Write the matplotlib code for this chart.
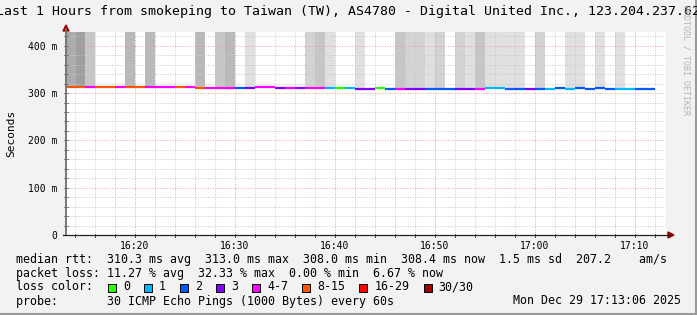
import numpy as np
import matplotlib.pyplot as plt
from matplotlib.patches import Rectangle, Polygon
from matplotlib.lines import Line2D

# ── data ────────────────────────────────────────────────────────────────────
title = "Last 1 Hours from smokeping to Taiwan (TW), AS4780 - Digital United Inc., 123.204.237.62"
t_start = 13.1          # minutes after 16:00 (16:13:06)
t_span = 60.0
step_ends = np.arange(14, 73)   # rrd steps of one minute, 16:14 .. 17:12

median_ms = [313.0, 312.8, 312.5, 312.2, 311.8, 312.0, 312.3, 312.3, 312.5, 312.6,
             312.4, 312.0, 311.8, 311.5, 311.4, 311.3, 311.3, 311.0, 311.0, 312.0,
             312.0, 311.0, 311.0, 310.8, 310.5, 310.5, 309.8, 309.8, 309.8, 309.5,
             309.5, 309.8, 309.5, 309.5, 309.3, 309.3, 309.0, 309.0, 309.0, 308.8,
             308.0, 309.5, 310.5, 310.5, 309.2, 309.0, 309.0, 309.0, 309.2, 310.0,
             309.3, 310.0, 309.3, 310.0, 309.5, 309.3, 309.3, 308.6, 308.4]
lost_pings = [8, 10, 5, 8, 8, 6, 8, 8, 4, 4,
              4, 8, 4, 8, 4, 6, 4, 2, 3, 4,
              4, 3, 4, 3, 5, 6, 1, 0, 1, 3,
              3, 0, 2, 5, 3, 3, 2, 2, 2, 3,
              3, 4, 1, 1, 2, 2, 3, 2, 1, 2,
              1, 2, 2, 2, 2, 1, 1, 2, 2]
# how many pings of the 30 went off the top of the graph (smoke darkness)
smoke_over = [5, 6, 3, 0, 0, 0, 4, 0, 4, 0,
              0, 0, 0, 4, 0, 3, 4, 0, 1, 0,
              0, 0, 0, 0, 2, 3, 1, 0, 0, 1,
              0, 0, 0, 3, 2, 2, 1, 2, 0, 2,
              1, 3, 1, 1, 1, 1, 0, 2, 0, 0,
              1, 1, 0, 1, 0, 1, 0, 0, 0]

loss_bins = ["0", "1", "2", "3", "4-7", "8-15", "16-29", "30/30"]
loss_cols = ["#26ff00", "#00b8ff", "#0059ff", "#7e00ff", "#ff00ff", "#ff5500", "#ff0000", "#a00000"]

stats_rtt = "median rtt:  310.3 ms avg  313.0 ms max  308.0 ms min  308.4 ms now  1.5 ms sd  207.2    am/s"
stats_loss = "packet loss: 11.27 % avg  32.33 % max  0.00 % min  6.67 % now"
probe_txt = "probe:       30 ICMP Echo Pings (1000 Bytes) every 60s"
stamp_txt = "Mon Dec 29 17:13:06 2025"

yticks = [0, 100, 200, 300, 400]
ytick_lbl = ["0", "100 m", "200 m", "300 m", "400 m"]
xticks = [20, 30, 40, 50, 60, 70]
xtick_lbl = ["16:20", "16:30", "16:40", "16:50", "17:00", "17:10"]


def loss_color(n):
    if n <= 3:
        return loss_cols[n]
    if n <= 7:
        return loss_cols[4]
    if n <= 15:
        return loss_cols[5]
    if n <= 29:
        return loss_cols[6]
    return loss_cols[7]


W, H = 697, 315
MONO = "DejaVu Sans Mono"
def fx(x): return x / W
def fy(y): return 1 - y / H

fig = plt.figure(figsize=(W / 100, H / 100), dpi=100, facecolor="#f2f2f2")
L, R, T, B = 66, 666, 32, 235
ax = fig.add_axes([fx(L), fy(B), (R - L) / W, (B - T) / H])
ax.set_facecolor("white")
YTOP = 429
ax.set_xlim(t_start, t_start + t_span)
ax.set_ylim(0, YTOP)
for s in ax.spines.values():
    s.set_visible(False)
ax.tick_params(length=0, labelsize=7, colors="#000000")
for lbl in ax.get_xticklabels() + ax.get_yticklabels():
    lbl.set_family(MONO)

# smoke columns
starts = np.concatenate([[t_start], step_ends[:-1]])
for x0, x1, m, n in zip(starts, step_ends, median_ms, smoke_over):
    if n > 0:
        g = 0xe0 - (n - 1) * 0x0d
        ax.add_patch(Rectangle((x0, m), x1 - x0, 1000, facecolor="#%02x%02x%02x" % (g, g, g),
                               lw=0, zorder=1))

# grid
dots = (0, (1.0, 1.6))
for v in np.arange(14, 74, 2):
    major = v % 10 == 0
    ax.axvline(v, color="#e9a0a0" if major else "#c8c8c8", lw=0.7, ls=dots, zorder=2)
for v in np.arange(20, YTOP, 20):
    major = v % 100 == 0
    ax.axhline(v, color="#e9a0a0" if major else "#c8c8c8", lw=0.7, ls=dots, zorder=2)

# median line coloured by loss
for x0, x1, m, n in zip(starts, step_ends, median_ms, lost_pings):
    ax.plot([x0, x1], [m, m], color=loss_color(n), lw=1.6, solid_capstyle="butt", zorder=3)

ax.set_xticks(xticks)
ax.set_xticklabels(xtick_lbl, family=MONO, fontsize=7)
ax.set_yticks(yticks)
ax.set_yticklabels(ytick_lbl, family=MONO, fontsize=7)
ax.tick_params(axis="x", pad=4)
ax.tick_params(axis="y", pad=6)

# axes lines and arrows
fig.add_artist(Line2D([fx(L), fx(L)], [fy(B), fy(29)], color="#707070", lw=1.3))
fig.add_artist(Line2D([fx(L - 3), fx(670)], [fy(B), fy(B)], color="#202020", lw=0.9))
fig.add_artist(Polygon([[fx(L - 3), fy(31)], [fx(L + 3), fy(31)], [fx(L), fy(25)]],
                       closed=True, color="#a00000"))
fig.add_artist(Polygon([[fx(668), fy(B - 3)], [fx(668), fy(B + 3)], [fx(674), fy(B)]],
                       closed=True, color="#a00000"))
for v in np.arange(14, 74, 2):
    xp = L + (v - t_start) / t_span * (R - L)
    fig.add_artist(Line2D([fx(xp), fx(xp)], [fy(B - 1.5), fy(B + 1.5)], color="#202020", lw=0.6))
for v in np.arange(20, YTOP, 20):
    yp = B - v / YTOP * (B - T)
    fig.add_artist(Line2D([fx(L - 2), fx(L + 1.5)], [fy(yp), fy(yp)], color="#707070", lw=0.6))

# texts
fig.text(0.5, fy(12), title, ha="center", va="center", family=MONO, fontsize=9.5)
fig.text(fx(11), fy((T + B) / 2), "Seconds", rotation=90, ha="center", va="center",
         family=MONO, fontsize=8)
fig.text(fx(686), fy(60), "RRDTOOL / TOBI OETIKER", rotation=270, ha="center", va="center",
         family=MONO, fontsize=6, color="#b4b4b4")

fs = 8.4
pitch = 7.02
fig.text(fx(16), fy(259), stats_rtt, ha="left", va="center", family=MONO, fontsize=fs)
fig.text(fx(16), fy(273), stats_loss, ha="left", va="center", family=MONO, fontsize=fs)
fig.text(fx(16), fy(287), "loss color:", ha="left", va="center", family=MONO, fontsize=fs)
fig.text(fx(16), fy(301), probe_txt, ha="left", va="center", family=MONO, fontsize=fs)
fig.text(fx(681), fy(301), stamp_txt, ha="right", va="center", family=MONO, fontsize=fs)

bx = 108
for lab, col in zip(loss_bins, loss_cols):
    fig.add_artist(Rectangle((fx(bx), fy(291.5)), 8 / W, 8 / H, facecolor=col,
                             edgecolor="black", lw=0.7, transform=fig.transFigure))
    fig.text(fx(bx + 15), fy(287), lab, ha="left", va="center", family=MONO, fontsize=fs)
    bx += 15 + (len(lab) + 2) * pitch

# frame shading
fig.add_artist(Line2D([0, 1], [fy(313.5), fy(313.5)], color="#9a9a9a", lw=2.2))
fig.add_artist(Line2D([fx(695.5), fx(695.5)], [0, 1], color="#9a9a9a", lw=2.2))

fig.savefig("out.png", dpi=100, facecolor=fig.get_facecolor())
